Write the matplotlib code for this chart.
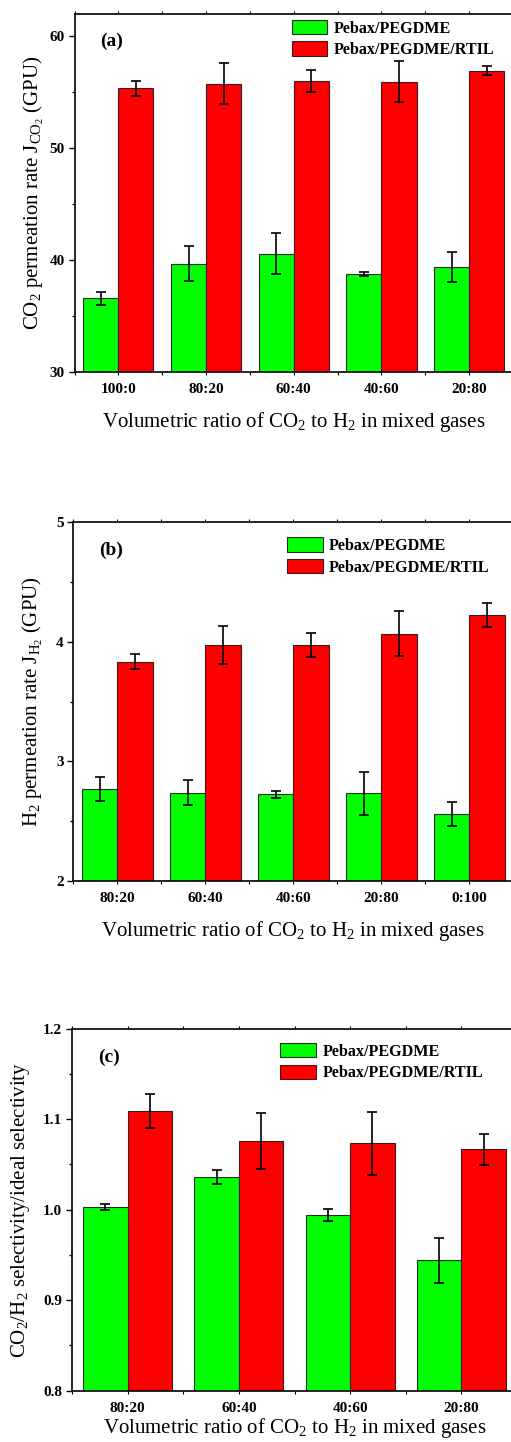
import matplotlib
matplotlib.use("Agg")
import matplotlib.pyplot as plt
import numpy as np
from matplotlib.ticker import MultipleLocator, FixedLocator

plt.rcParams['font.family'] = ['Liberation Serif', 'DejaVu Serif']
plt.rcParams['mathtext.fontset'] = 'custom'
plt.rcParams['mathtext.rm'] = 'Liberation Serif'
plt.rcParams['mathtext.it'] = 'Liberation Serif:italic'
plt.rcParams['mathtext.bf'] = 'Liberation Serif:bold'

series_names = ["Pebax/PEGDME", "Pebax/PEGDME/RTIL"]

# Panel (a): CO2 permeation rate
cats_a = ["100:0", "80:20", "60:40", "40:60", "20:80"]
green_a = [36.6, 39.7, 40.6, 38.8, 39.4]
green_a_err = [0.57, 1.53, 1.85, 0.18, 1.3]
red_a = [55.35, 55.75, 56.0, 55.93, 56.9]
red_a_err = [0.65, 1.85, 1.02, 1.84, 0.4]

# Panel (b): H2 permeation rate
cats_b = ["80:20", "60:40", "40:60", "20:80", "0:100"]
green_b = [2.765, 2.737, 2.723, 2.731, 2.555]
green_b_err = [0.10, 0.107, 0.032, 0.18, 0.10]
red_b = [3.834, 3.970, 3.973, 4.068, 4.222]
red_b_err = [0.06, 0.158, 0.103, 0.19, 0.10]

# Panel (c): selectivity ratio
cats_c = ["80:20", "60:40", "40:60", "20:80"]
green_c = [1.0033, 1.0357, 0.9945, 0.944]
green_c_err = [0.0035, 0.0077, 0.0068, 0.025]
red_c = [1.109, 1.0762, 1.0733, 1.0667]
red_c_err = [0.019, 0.031, 0.035, 0.017]

W, H = 511, 1442
fig = plt.figure(figsize=(W / 100, H / 100), dpi=100)


def add_axes_px(left, right, top, bottom):
    return fig.add_axes([left / W, 1 - bottom / H, (right - left) / W, (bottom - top) / H])


def panel(ax, cats, g, ge, r, re, ylim, major, minor, ylabel, tag, label_x, fmt, leg_anchor):
    x = np.arange(len(cats))
    bw = 0.4
    ax.bar(x - bw / 2, g, bw, color='#00ff00', edgecolor='#2a2a2a', linewidth=0.8,
           label=series_names[0], zorder=2)
    ax.bar(x + bw / 2, r, bw, color='#ff0000', edgecolor='#3a1a1a', linewidth=0.8,
           label=series_names[1], zorder=2)
    ax.errorbar(x - bw / 2, g, yerr=ge, fmt='none', ecolor='black', elinewidth=1.2,
                capsize=3.5, capthick=1.2, zorder=3)
    ax.errorbar(x + bw / 2, r, yerr=re, fmt='none', ecolor='black', elinewidth=1.2,
                capsize=3.5, capthick=1.2, zorder=3)
    ax.set_xlim(-0.5, len(cats) - 0.5)
    ax.set_ylim(*ylim)
    ax.set_xticks(x)
    ax.set_xticklabels(cats, fontweight='bold', fontsize=11)
    ax.xaxis.set_minor_locator(FixedLocator(np.arange(-0.5, len(cats), 1.0)))
    ax.yaxis.set_major_locator(MultipleLocator(major))
    ax.yaxis.set_minor_locator(MultipleLocator(minor))
    ax.yaxis.set_major_formatter(plt.FormatStrFormatter(fmt))
    for lbl in ax.get_yticklabels():
        lbl.set_fontweight('bold')
        lbl.set_fontsize(11)
    ax.tick_params(axis='y', which='major', direction='out', length=4, width=1, pad=3)
    ax.tick_params(axis='y', which='minor', direction='out', length=2.5, width=1)
    ax.tick_params(axis='x', which='both', direction='out', length=2, width=0.8,
                   top=True, bottom=True, pad=6)
    for s in ax.spines.values():
        s.set_linewidth(1.2)
    ax.spines['right'].set_visible(False)
    ax.set_ylabel(ylabel, fontsize=15)
    ax.yaxis.set_label_coords(label_x, 0.5)
    ax.set_xlabel(r'Volumetric ratio of CO$_2$ to H$_2$ in mixed gases', fontsize=15)
    ax.text(0.058, 0.922, tag, transform=ax.transAxes, fontsize=14, fontweight='bold',
            va='center', ha='left')
    ax.legend(loc='upper left', bbox_to_anchor=leg_anchor, frameon=False,
              prop={'weight': 'bold', 'size': 11.6}, handlelength=2.2,
              handleheight=1.0, labelspacing=0.3, handletextpad=0.4,
              borderaxespad=0.2)
    return ax


ax_a = add_axes_px(74.5, 513, 13.7, 372.3)
panel(ax_a, cats_a, green_a, green_a_err, red_a, red_a_err, (30, 62), 10, 5,
      r'CO$_2$ permeation rate J$_{\mathrm{CO}_2}$ (GPU)', '(a)', -0.065, '%d',
      (0.473, 1.01))
ax_a.xaxis.labelpad = 10

ax_b = add_axes_px(73.3, 513.3, 522.3, 880.7)
panel(ax_b, cats_b, green_b, green_b_err, red_b, red_b_err, (2, 5), 1, 0.5,
      r'H$_2$ permeation rate J$_{\mathrm{H}_2}$ (GPU)', '(b)', -0.065, '%d',
      (0.464, 0.985))
ax_b.xaxis.labelpad = 10

ax_c = add_axes_px(72, 517, 1028.7, 1390.7)
panel(ax_c, cats_c, green_c, green_c_err, red_c, red_c_err, (0.8, 1.2), 0.1, 0.05,
      r'CO$_2$/H$_2$ selectivity/ideal selectivity', '(c)', -0.09, '%.1f',
      (0.4465, 0.987))
ax_c.xaxis.labelpad = 1

fig.savefig('out.png', dpi=100)
